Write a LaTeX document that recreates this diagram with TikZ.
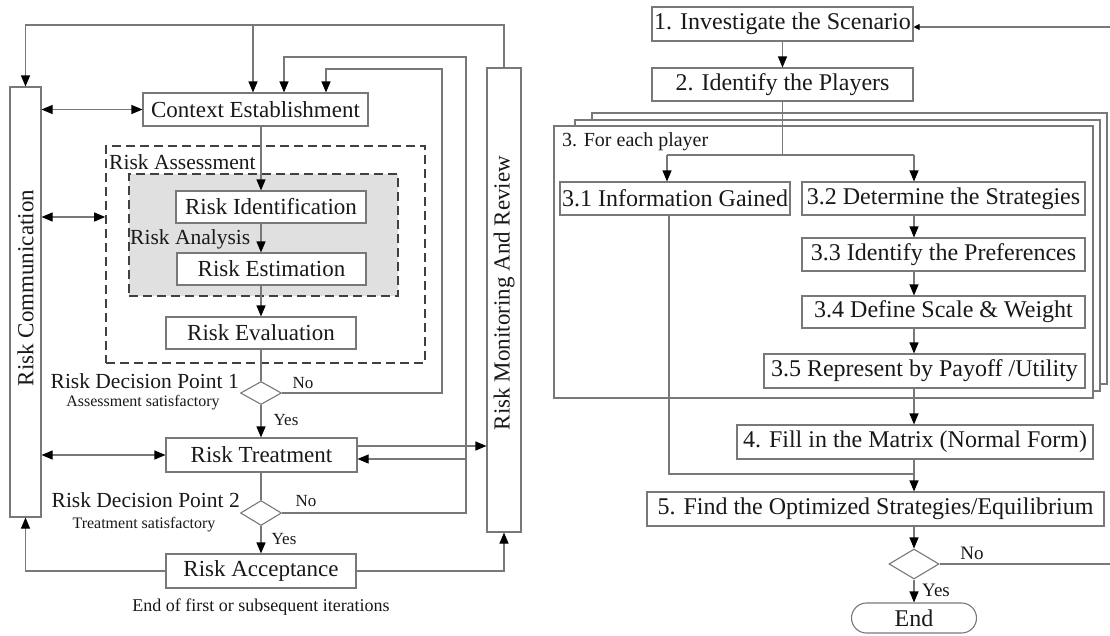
\documentclass[tikz,border=0pt]{standalone}
\usepackage{fontspec}
\setmainfont{Liberation Serif}
\usetikzlibrary{arrows.meta,shapes.geometric,calc}
\definecolor{lg}{RGB}{120,120,120}
\definecolor{tx}{RGB}{25,25,25}
\begin{document}
\begin{tikzpicture}[x=1pt,y=-1pt,
 box/.style={draw=lg,line width=1.1pt,fill=white,inner sep=0pt,text=tx,font=\fontsize{23}{26}\selectfont},
 rbox/.style={box,font=\fontsize{24}{27}\selectfont},
 con/.style={draw=lg,line width=1.1pt},
 arr/.style={con,-{Triangle[length=11pt,width=9pt,color=black]}},
 sarr/.style={con,-{Triangle[length=6pt,width=6pt,color=black]}},
 darr/.style={con,{Triangle[length=11pt,width=9pt,color=black]}-{Triangle[length=11pt,width=9pt,color=black]}},
 lbl/.style={text=tx,inner sep=0pt,font=\fontsize{21.5}{24}\selectfont},
 small/.style={text=tx,inner sep=0pt,font=\fontsize{16}{18}\selectfont},
 yn/.style={text=tx,inner sep=0pt,font=\fontsize{17}{19}\selectfont},
 ryn/.style={text=tx,inner sep=0pt,font=\fontsize{19}{21}\selectfont},
 dec/.style={diamond,draw=lg,line width=1.1pt,fill=white,inner sep=0pt},
 dashbox/.style={draw=black!75,line width=1.6pt,dash pattern=on 9pt off 5pt,inner sep=0pt},
 framebox/.style={draw=lg,line width=1.1pt,fill=white,inner sep=0pt}]
\fill[white] (0,0) rectangle (1110,635);
\useasboundingbox (0,0) rectangle (1110,635);

% ---------------- LEFT DIAGRAM ----------------
\node[box,minimum width=31pt,minimum height=430pt] (comm) at (25.5,302) {};
\node[lbl,rotate=90,font=\fontsize{23}{26}\selectfont] (commt) at (25.5,288) {Risk Communication};
\node[box,minimum width=34pt,minimum height=464pt] (mon) at (504,300) {};
\node[lbl,rotate=90,font=\fontsize{23}{26}\selectfont] (mont) at (504,293) {Risk Monitoring And Review};

\node[box,minimum width=225pt,minimum height=33pt] (ctx) at (255.5,109.5) {Context Establishment};
\node[dashbox,minimum width=319pt,minimum height=217pt] (assess) at (265.5,254.5) {};
\node[lbl,anchor=west] (assesst) at (109,162) {Risk Assessment};
\node[dashbox,fill=black!12,minimum width=269pt,minimum height=122pt] (anal) at (263.5,235) {};
\node[box,minimum width=190pt,minimum height=32pt] (ident) at (271,207) {Risk Identification};
\node[lbl,anchor=west] (analt) at (130,239) {Risk Analysis};
\node[box,minimum width=189pt,minimum height=32pt] (est) at (271.5,269) {Risk Estimation};
\node[box,minimum width=190pt,minimum height=32pt] (eval) at (261,333) {Risk Evaluation};
\node[dec,minimum width=41pt,minimum height=23pt] (d1) at (261,393) {};
\node[lbl,anchor=east] (d1t) at (239,381) {Risk Decision Point 1};
\node[small] (d1s) at (143,403) {Assessment satisfactory};
\node[yn] (d1no) at (303,383) {No};
\node[yn] (d1yes) at (286,420) {Yes};
\node[box,minimum width=191pt,minimum height=34pt] (treat) at (261.5,455) {Risk Treatment};
\node[dec,minimum width=41pt,minimum height=25pt] (d2) at (261,513) {};
\node[lbl,anchor=east] (d2t) at (240,500) {Risk Decision Point 2};
\node[small] (d2s) at (144,525) {Treatment satisfactory};
\node[yn] (d2no) at (306,501) {No};
\node[yn] (d2yes) at (284,539) {Yes};
\node[box,minimum width=190pt,minimum height=34pt] (acc) at (261,571) {Risk Acceptance};
\node[text=tx,inner sep=0pt,font=\fontsize{18}{20}\selectfont] (endt) at (261,607) {End of first or subsequent iterations};

\coordinate (yTop) at (0,25);
\coordinate (xA) at (253,0);
\coordinate (xB) at (466,57);
\coordinate (xC) at (284,0);
\coordinate (xD) at (442,69);
\coordinate (xE) at (326,0);
\coordinate (xM) at (261,0);
\coordinate (yT1) at (0,446);
\coordinate (yT2) at (0,459);
\coordinate (yAs) at (0,217);

\draw[arr] (mon.north) -- (mon.north |- yTop) -| (comm.north);
\draw[arr] (xA |- yTop) -- (xA |- ctx.north);
\draw[arr] (d2.east) -| (xB) -| (xC |- ctx.north);
\draw[arr] (d1.east) -| (xD) -| (xE |- ctx.north);
\draw[darr] (comm.east |- ctx.west) -- (ctx.west);
\draw[darr] (comm.east |- yAs) -- (assess.west |- yAs);
\draw[darr] (comm.east |- treat.west) -- (treat.west);
\draw[arr] (treat.east |- yT1) -- (mon.west |- yT1);
\draw[arr] (xB |- yT2) -- (treat.east |- yT2);
\draw[arr] (ctx.south -| xM) -- (ident.north -| xM);
\draw[arr] (ident.south -| xM) -- (est.north -| xM);
\draw[arr] (est.south -| xM) -- (eval.north -| xM);
\draw[con] (eval.south) -- (d1.north);
\draw[arr] (d1.south) -- (treat.north -| d1.south);
\draw[con] (treat.south -| d2.north) -- (d2.north);
\draw[arr] (d2.south) -- (acc.north -| d2.south);
\draw[arr] (acc.west) -| (comm.south);
\draw[arr] (acc.east) -| (mon.south);

% ---------------- RIGHT DIAGRAM ----------------
\node[framebox,minimum width=515pt,minimum height=271pt] (f3) at (849.5,248.5) {};
\node[framebox,minimum width=525pt,minimum height=271pt] (f2) at (837.5,255.5) {};
\node[framebox,minimum width=539pt,minimum height=272pt] (f1) at (823.5,262) {};
\node[text=tx,inner sep=0pt,anchor=west,font=\fontsize{20}{22}\selectfont] (f1t) at (562,142) {3. For each player};

\node[rbox,minimum width=261pt,minimum height=34pt] (b1) at (782.5,24) {1. Investigate the Scenario};
\node[rbox,minimum width=261pt,minimum height=33pt] (b2) at (782.5,84.5) {2. Identify the Players};
\node[rbox,minimum width=230pt,minimum height=33pt] (b31) at (675,198.5) {3.1 Information Gained};
\node[rbox,minimum width=283pt,minimum height=33pt] (b32) at (943.5,198.5) {3.2 Determine the Strategies};
\node[rbox,minimum width=283pt,minimum height=33pt] (b33) at (943.5,254.5) {3.3 Identify the Preferences};
\node[rbox,minimum width=283pt,minimum height=32pt] (b34) at (943.5,312) {3.4 Define Scale \& Weight};
\node[rbox,minimum width=321pt,minimum height=34pt] (b35) at (924.5,371) {3.5 Represent by Payoff /Utility};
\node[rbox,minimum width=356pt,minimum height=34pt] (b4) at (915,442) {4. Fill in the Matrix (Normal Form)};
\node[rbox,minimum width=457pt,minimum height=34pt] (b5) at (875.5,509) {5. Find the Optimized Strategies/Equilibrium};
\node[dec,minimum width=50pt,minimum height=30pt] (d3) at (914,564) {};
\node[ryn] (d3no) at (972,553) {No};
\node[ryn] (d3yes) at (936,590) {Yes};
\node[draw=lg,line width=1.1pt,rounded corners=15pt,minimum width=125pt,minimum height=30pt,inner sep=0pt,text=tx,font=\fontsize{24}{27}\selectfont] (end) at (914,618) {End};

\coordinate (rIn) at (1110,27);
\coordinate (rOut) at (1110,564);
\coordinate (br) at (784,155);
\coordinate (xL) at (667,155);
\coordinate (xR) at (914,155);
\coordinate (xc) at (914,0);
\coordinate (xI) at (669,474);

\draw[sarr] (rIn) -- (b1.east |- rIn);
\draw[arr] (b1.south) -- (b2.north);
\draw[con] (b2.south) -- (b2.south |- br);
\draw[con] (xL) -- (xR);
\draw[arr] (xL) -- (xL |- b31.north);
\draw[arr] (xR) -- (xR |- b32.north);
\draw[arr] (xc |- b32.south) -- (xc |- b33.north);
\draw[arr] (xc |- b33.south) -- (xc |- b34.north);
\draw[arr] (xc |- b34.south) -- (xc |- b35.north);
\draw[arr] (xc |- b35.south) -- (xc |- b4.north);
\draw[arr] (xc |- b4.south) -- (xc |- b5.north);
\draw[con] (b31.south -| xI) |- (xc |- xI);
\draw[arr] (xc |- b5.south) -- (d3.north);
\draw[arr] (d3.south) -- (end.north);
\draw[con] (d3.east) -- (rOut);
\end{tikzpicture}
\end{document}
